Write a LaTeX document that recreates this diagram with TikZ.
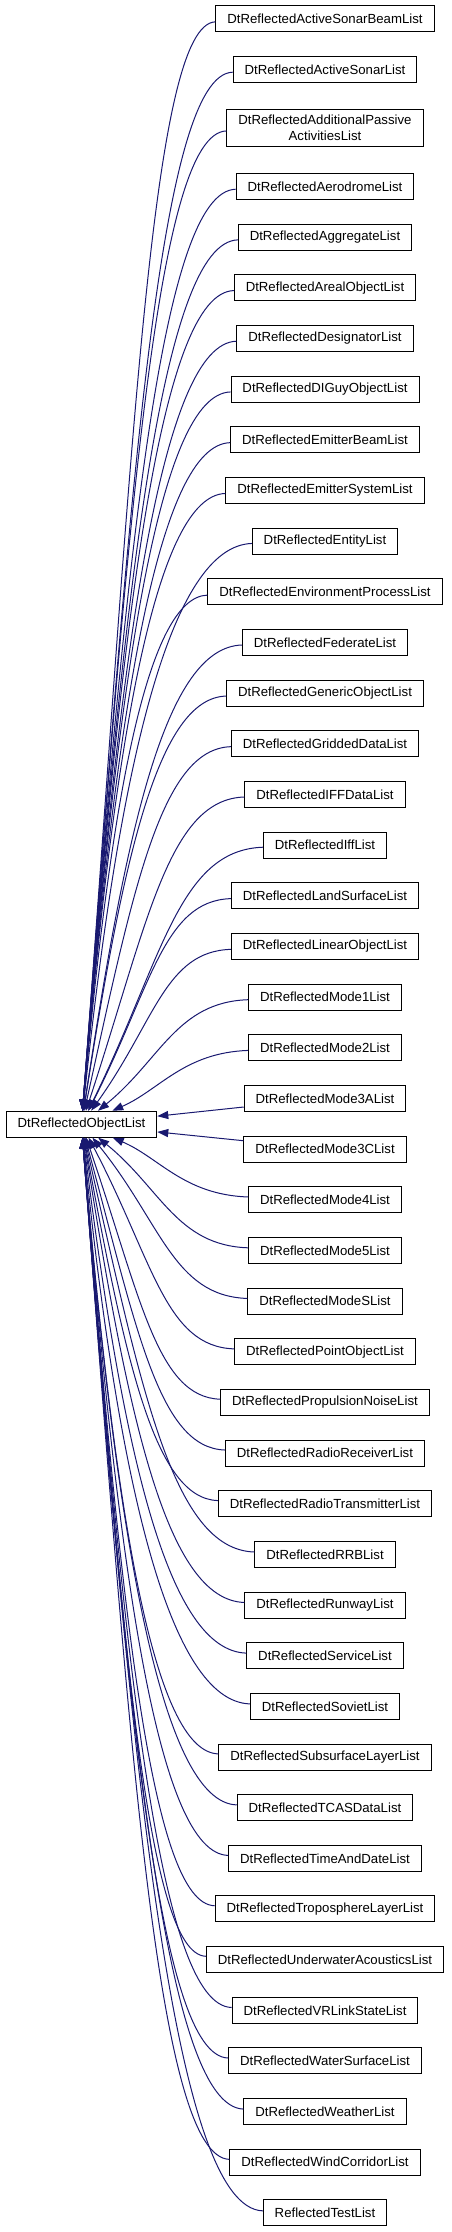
\documentclass[tikz,border=0pt]{standalone}
\usepackage{fontspec}
\setmainfont{Liberation Sans}
\usetikzlibrary{arrows.meta,calc}
\definecolor{edgeblue}{RGB}{25,25,112}
\tikzset{
  cls/.style={rectangle, draw, line width=0.9pt, font=\fontsize{13.2}{15.7}\selectfont,
    inner xsep=11.5pt, inner ysep=6pt, minimum height=26pt, align=center},
  inherit/.style={draw=edgeblue, line width=1pt, -{Triangle[length=11pt,width=8pt]},
    to path={let \p1=(\tikztostart.west), \p2=(\tikztotarget.center),
      \n1={(\y1-\y2)/abs(\y1-\y2)}, \n2={abs(\y1-\y2)},
      \n3={\x1-\x2-2.5-2700/\n2}, \n4={\n2-17.5},
      \n5={min(86,1.15*atan2(\n4,\n3))}, \n6={0.6*\n4+10}
      in .. controls ({\x1-0.5*\n3},{\y1-\n1*5})
         and ({\x2+2.5+2700/\n2+\n6*cos(\n5)},{\y2+\n1*(12.5+\n6*sin(\n5))}) .. (\tikztotarget)}}
}
\begin{document}
\begin{tikzpicture}[x=1pt,y=-1pt]
\useasboundingbox (0,0) rectangle (451,2232);
\node [cls] (objlist) at (81.5,1124.2) {DtReflectedObjectList};
\node [cls] (sonbeam) at (325,18.7) {DtReflectedActiveSonarBeamList};
\node [cls] (sonar) at (325,69.4) {DtReflectedActiveSonarList};
\node [cls] (passive) at (325,128) {DtReflectedAdditionalPassive\\ActivitiesList};
\node [cls] (aero) at (325,186.5) {DtReflectedAerodromeList};
\node [cls] (aggr) at (325,237.2) {DtReflectedAggregateList};
\node [cls] (areal) at (325,287.8) {DtReflectedArealObjectList};
\node [cls] (desig) at (325,338.5) {DtReflectedDesignatorList};
\node [cls] (diguy) at (325,389.1) {DtReflectedDIGuyObjectList};
\node [cls] (embeam) at (325,439.8) {DtReflectedEmitterBeamList};
\node [cls] (emsys) at (325,490.5) {DtReflectedEmitterSystemList};
\node [cls] (entity) at (325,541.1) {DtReflectedEntityList};
\node [cls] (envproc) at (325,591.8) {DtReflectedEnvironmentProcessList};
\node [cls] (fed) at (325,642.4) {DtReflectedFederateList};
\node [cls] (generic) at (325,693.1) {DtReflectedGenericObjectList};
\node [cls] (gridded) at (325,743.8) {DtReflectedGriddedDataList};
\node [cls] (iffdata) at (325,794.4) {DtReflectedIFFDataList};
\node [cls] (iff) at (325,845.1) {DtReflectedIffList};
\node [cls] (land) at (325,895.7) {DtReflectedLandSurfaceList};
\node [cls] (linear) at (325,946.4) {DtReflectedLinearObjectList};
\node [cls] (mode1) at (325,997.1) {DtReflectedMode1List};
\node [cls] (mode2) at (325,1047.7) {DtReflectedMode2List};
\node [cls] (modeA) at (325,1098.4) {DtReflectedMode3AList};
\node [cls] (modeC) at (325,1149.0) {DtReflectedMode3CList};
\node [cls] (mode4) at (325,1199.7) {DtReflectedMode4List};
\node [cls] (mode5) at (325,1250.4) {DtReflectedMode5List};
\node [cls] (modeS) at (325,1301.0) {DtReflectedModeSList};
\node [cls] (point) at (325,1351.7) {DtReflectedPointObjectList};
\node [cls] (propnoise) at (325,1402.3) {DtReflectedPropulsionNoiseList};
\node [cls] (radiorx) at (325,1453.0) {DtReflectedRadioReceiverList};
\node [cls] (radiotx) at (325,1503.7) {DtReflectedRadioTransmitterList};
\node [cls] (rrb) at (325,1554.3) {DtReflectedRRBList};
\node [cls] (runway) at (325,1605.0) {DtReflectedRunwayList};
\node [cls] (service) at (325,1655.6) {DtReflectedServiceList};
\node [cls] (soviet) at (325,1706.3) {DtReflectedSovietList};
\node [cls] (subsurf) at (325,1757.0) {DtReflectedSubsurfaceLayerList};
\node [cls] (tcas) at (325,1807.6) {DtReflectedTCASDataList};
\node [cls] (timedate) at (325,1858.3) {DtReflectedTimeAndDateList};
\node [cls] (tropo) at (325,1908.9) {DtReflectedTroposphereLayerList};
\node [cls] (underwater) at (325,1959.6) {DtReflectedUnderwaterAcousticsList};
\node [cls] (vrlink) at (325,2010.3) {DtReflectedVRLinkStateList};
\node [cls] (water) at (325,2060.9) {DtReflectedWaterSurfaceList};
\node [cls] (weather) at (325,2111.6) {DtReflectedWeatherList};
\node [cls] (wind) at (325,2162.2) {DtReflectedWindCorridorList};
\node [cls] (test) at (325,2212.9) {ReflectedTestList};
\draw [inherit] (sonbeam) to (objlist);
\draw [inherit] (sonar) to (objlist);
\draw [inherit] (passive) to (objlist);
\draw [inherit] (aero) to (objlist);
\draw [inherit] (aggr) to (objlist);
\draw [inherit] (areal) to (objlist);
\draw [inherit] (desig) to (objlist);
\draw [inherit] (diguy) to (objlist);
\draw [inherit] (embeam) to (objlist);
\draw [inherit] (emsys) to (objlist);
\draw [inherit] (entity) to (objlist);
\draw [inherit] (envproc) to (objlist);
\draw [inherit] (fed) to (objlist);
\draw [inherit] (generic) to (objlist);
\draw [inherit] (gridded) to (objlist);
\draw [inherit] (iffdata) to (objlist);
\draw [inherit] (iff) to (objlist);
\draw [inherit] (land) to (objlist);
\draw [inherit] (linear) to (objlist);
\draw [inherit] (mode1) to (objlist);
\draw [inherit] (mode2) to (objlist);
\draw [inherit] (modeA) -- (objlist);
\draw [inherit] (modeC) -- (objlist);
\draw [inherit] (mode4) to (objlist);
\draw [inherit] (mode5) to (objlist);
\draw [inherit] (modeS) to (objlist);
\draw [inherit] (point) to (objlist);
\draw [inherit] (propnoise) to (objlist);
\draw [inherit] (radiorx) to (objlist);
\draw [inherit] (radiotx) to (objlist);
\draw [inherit] (rrb) to (objlist);
\draw [inherit] (runway) to (objlist);
\draw [inherit] (service) to (objlist);
\draw [inherit] (soviet) to (objlist);
\draw [inherit] (subsurf) to (objlist);
\draw [inherit] (tcas) to (objlist);
\draw [inherit] (timedate) to (objlist);
\draw [inherit] (tropo) to (objlist);
\draw [inherit] (underwater) to (objlist);
\draw [inherit] (vrlink) to (objlist);
\draw [inherit] (water) to (objlist);
\draw [inherit] (weather) to (objlist);
\draw [inherit] (wind) to (objlist);
\draw [inherit] (test) to (objlist);
\end{tikzpicture}
\end{document}
